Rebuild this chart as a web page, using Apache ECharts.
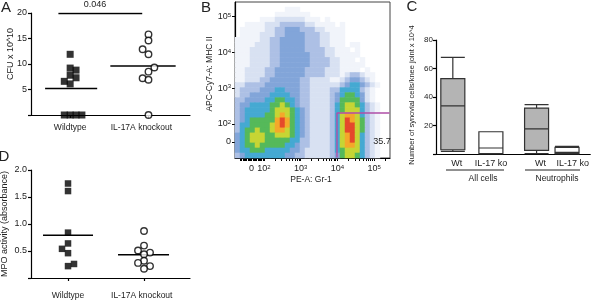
<!DOCTYPE html>
<html>
<head>
<meta charset="utf-8">
<script src="https://cdn.jsdelivr.net/npm/echarts@6/dist/echarts.min.js"></script>
<style>
  html, body { margin: 0; padding: 0; background: #fff; }
  #main { width: 592px; height: 300px; }
</style>
</head>
<body>
<div id="main"></div>
<script>
// ---- A: bacterial load ----
const groupNames = ['Wildtype', 'IL-17A knockout'];
const cfuWildtype = [11.9, 9.2, 8.8, 7.8, 7.3, 6.6, 6.1, 0, 0, 0, 0];
const cfuWildtypeSlot = [0, 0, 1, 0, 1, -1, 0, -1, 0, 1, 2];
const cfuKnockout = [15.8, 14.6, 12.9, 11.9, 9.3, 8.5, 7.2, 6.9, 0];
const cfuKnockoutSlot = [0, 0, -1, 0, 1, 0, -1, 0, 0];
const cfuMeans = [5.2, 9.6];
const cfuPValue = '0.046';
const cfuTicks = [20, 15, 10, 5];

// ---- D: MPO activity ----
const mpoWildtype = [1.75, 1.61, 0.84, 0.64, 0.54, 0.46, 0.26, 0.22];
const mpoWildtypeSlot = [0, 0, 0, 0, -1, 0, 1, 0];
const mpoKnockout = [0.87, 0.60, 0.51, 0.47, 0.44, 0.32, 0.28, 0.22, 0.17];
const mpoKnockoutSlot = [0, 0, -1, 1, 0, 0, -1, 1, 0];
const mpoMeans = [0.79, 0.43];

// ---- C: synovial cells, [min, Q1, median, Q3, max] ----
const boxLabels = ['Wt', 'IL-17 ko', 'Wt', 'IL-17 ko'];
const boxGroups = ['All cells', 'Neutrophils'];
const boxStats = [
  [1.9, 3.0, 33.8, 52.9, 67.8],
  [0, 0.3, 4.2, 15.6, 15.6],
  [0.3, 2.6, 17.7, 32.2, 34.7],
  [0, 0.3, 1.2, 4.7, 5.4]
];

// ---- B: flow plot, density levels (0 empty .. 9 densest), rows top -> bottom ----
const flowDensity = [
  '',
  '0000000000111',
  '000000001111111',
  '0000011122222211101',
  '0011112223333322111101',
  '0111112233444333221111',
  '0111122233444433322111',
  '1111122334444433322111',
  '1111222334444433322111011',
  '1112222334444433332211101',
  '1112222334444443332211111',
  '11122223344444433332211101',
  '11122223344444433332211111',
  '112222334444443333222111101',
  '1122223344444433332221233211',
  '1122233444444332222112344321',
  '22333344444443322222234554321',
  '2333344455444332222335555321',
  '2334444555544332222345665421',
  '3344445566554332222346666421',
  '34455556676543322223567765321',
  '34555556777654322223567775321',
  '34555566787654322223578875321',
  '34566666898654322223579876321',
  '35566667898654322223579976321',
  '35667667887654322223579976321',
  '45677766777654322223578975321',
  '45677766666553322223578975321',
  '45667666665543322223578875321',
  '45566655555443222223567775321',
  '34555555554433222223467765321'
];
const flowExponents = [null, 2, 3, 4, 5];   // 0, 10^2 ... 10^5
const gateX = [9750, 262144];
const gateY = [-200, 202];
const gatePercent = '35.7';

const font = 'Liberation Sans, Arial, sans-serif';
const ink = '#222';
const flowCols = 31;
const flowColors = ['#f1f4fa', '#d8e1f2', '#adc0e5', '#82a5d9', '#45a9d2', '#55b95a', '#c6d534', '#f4a82a', '#e5492b'];

// biexponential display scale (display units = pixels inside the plot)
function flowX(v) { return Math.abs(v) <= 100 ? 16.5 + v * 0.125 : 29 + 36.7 * Math.log10(v / 100); }
function flowY(v) { return Math.abs(v) <= 100 ? 16 + v * 0.18 : 34 + 35.8 * Math.log10(v / 100); }

let flowCells = [];
flowDensity.forEach((row, r) => {
  row.padEnd(flowCols, '0').split('').forEach((ch, c) => {
    if (ch !== '0') flowCells.push([c, r, +ch]);
  });
});

const xMajor = flowExponents.map(e => flowX(e === null ? 0 : Math.pow(10, e)));
const yMajor = flowExponents.map(e => flowY(e === null ? 0 : Math.pow(10, e)));
let xMinor = [];
for (let k = -9; k <= 9; k++) if (k !== 0) xMinor.push(flowX(k * 10));
[100, 1000, 10000].forEach(d => { for (let m = 2; m <= 9; m++) xMinor.push(flowX(d * m)); });
xMinor.push(flowX(200000));

function expLabel(v, majors) {
  const i = majors.findIndex(p => Math.abs(p - v) < 0.01);
  if (i < 0) return '';
  return flowExponents[i] === null ? '0' : '10{s|' + flowExponents[i] + '}';
}

function dotData(values, slots, center, step) {
  return values.map((v, i) => [center + slots[i] * step, v]);
}
function meanLine(xi, yi, from, to, value) {
  return {
    type: 'line', xAxisIndex: xi, yAxisIndex: yi, symbol: 'none', silent: true, z: 3,
    lineStyle: { color: '#000', width: 1.5 },
    data: [[from, value], [to, value]]
  };
}
function text(t, x, y, size, extra) {
  return Object.assign({
    type: 'text', x: x, y: y, z: 100, silent: true,
    style: { text: t, fill: ink, font: size + 'px ' + font, align: 'center', verticalAlign: 'middle' }
  }, extra || {});
}

const axisLineStyle = { show: true, lineStyle: { color: '#000', width: 1.2 } };
const tickStyle = { show: true, length: 3, lineStyle: { color: '#000', width: 1.2 } };
const labelStyle = { color: ink, fontFamily: font, fontSize: 9 };
const supRich = { s: { fontSize: 6, fontFamily: font, color: ink, verticalAlign: 'top' } };

const boxCenters = [1, 2, 3.2, 4.0];
const boxLabelPos = [1.1, 2.0, 3.3, 4.15];

let option = {
  animation: false,
  grid: [
    { left: 31, top: 13, width: 159, height: 102 },
    { left: 235, top: 2, width: 155, height: 156, show: true, borderColor: '#444', borderWidth: 1 },
    { left: 436, top: 40, width: 156, height: 114 },
    { left: 31, top: 170, width: 159, height: 108 }
  ],
  xAxis: [
    { gridIndex: 0, type: 'value', min: 0.5, max: 2.53, splitLine: { show: false },
      axisLine: axisLineStyle,
      axisTick: Object.assign({ customValues: [1, 2] }, tickStyle),
      axisLabel: Object.assign({ customValues: [1, 1.91], margin: 8,
        formatter: v => v < 1.5 ? groupNames[0] : groupNames[1] }, labelStyle, { fontSize: 8.5 }) },
    { gridIndex: 1, type: 'category', show: false, position: 'top',
      data: Array.from({ length: flowCols }, (_, i) => i) },
    { gridIndex: 1, type: 'value', position: 'bottom', min: 0, max: 155, splitLine: { show: false },
      axisLine: { show: true, onZero: false, lineStyle: { color: '#000', width: 1.2 } },
      axisTick: { show: true, length: 3, customValues: xMajor.concat(xMinor), lineStyle: { color: '#000', width: 1 } },
      axisLabel: Object.assign({ customValues: xMajor, margin: 6,
        formatter: v => expLabel(v, xMajor), rich: supRich }, labelStyle) },
    { gridIndex: 2, type: 'value', min: 0.558, max: 4.61, splitLine: { show: false },
      axisLine: axisLineStyle, axisTick: { show: false },
      axisLabel: Object.assign({ customValues: boxLabelPos, margin: 5,
        formatter: v => boxLabels[boxLabelPos.findIndex(p => Math.abs(p - v) < 0.01)] || '' }, labelStyle) },
    { gridIndex: 3, type: 'value', min: 0.513, max: 2.605, splitLine: { show: false },
      axisLine: axisLineStyle,
      axisTick: Object.assign({ customValues: [1, 2] }, tickStyle),
      axisLabel: Object.assign({ customValues: [1, 1.97], margin: 13,
        formatter: v => v < 1.5 ? groupNames[0] : groupNames[1] }, labelStyle, { fontSize: 8.5 }) }
  ],
  yAxis: [
    { gridIndex: 0, type: 'value', min: 0, max: 20, interval: 5, splitLine: { show: false },
      axisLine: axisLineStyle, axisTick: tickStyle,
      axisLabel: Object.assign({ margin: 4, formatter: v => cfuTicks.indexOf(v) >= 0 ? String(v) : '' }, labelStyle) },
    { gridIndex: 1, type: 'category', show: false, inverse: true, position: 'right',
      data: flowDensity.map((_, i) => i) },
    { gridIndex: 1, type: 'value', position: 'left', min: 0, max: 156, splitLine: { show: false },
      axisLine: { show: true, onZero: false, lineStyle: { color: '#000', width: 1.2 } },
      axisTick: { show: true, length: 3, customValues: yMajor, lineStyle: { color: '#000', width: 1 } },
      axisLabel: Object.assign({ customValues: yMajor, margin: 4,
        formatter: v => expLabel(v, yMajor), rich: supRich }, labelStyle) },
    { gridIndex: 2, type: 'value', min: 0, max: 80, interval: 20, splitLine: { show: false },
      axisLine: axisLineStyle, axisTick: tickStyle,
      axisLabel: Object.assign({ margin: 3, formatter: v => v === 0 ? '' : String(v) }, labelStyle, { fontSize: 8 }) },
    { gridIndex: 3, type: 'value', min: 0, max: 2, interval: 0.5, splitLine: { show: false },
      axisLine: axisLineStyle, axisTick: tickStyle,
      axisLabel: Object.assign({ margin: 4, formatter: v => v === 0 ? '' : v.toFixed(1) }, labelStyle) }
  ],
  visualMap: {
    type: 'piecewise', show: false, seriesIndex: 0, dimension: 2,
    pieces: flowColors.map((c, i) => ({ value: i + 1, color: c }))
  },
  series: [
    { type: 'heatmap', xAxisIndex: 1, yAxisIndex: 1, data: flowCells, silent: true, z: 1,
      itemStyle: { borderWidth: 0 } },
    { type: 'line', xAxisIndex: 2, yAxisIndex: 2, symbol: 'none', silent: true, z: 10, clip: false,
      lineStyle: { color: '#b04fa8', width: 1.4 },
      data: [[flowX(gateX[0]), 0.5], [flowX(gateX[0]), flowY(gateY[1])], [154.5, flowY(gateY[1])]] },
    // A
    { type: 'scatter', xAxisIndex: 0, yAxisIndex: 0, symbol: 'rect', symbolSize: 7, z: 4,
      itemStyle: { color: '#000' }, data: dotData(cfuWildtype, cfuWildtypeSlot, 1, 0.075) },
    { type: 'scatter', xAxisIndex: 0, yAxisIndex: 0, symbol: 'circle', symbolSize: 6.5, z: 4,
      itemStyle: { color: '#fff', borderColor: '#000', borderWidth: 1.4 },
      data: dotData(cfuKnockout, cfuKnockoutSlot, 2, 0.075) },
    meanLine(0, 0, 0.68, 1.345, cfuMeans[0]),
    meanLine(0, 0, 1.513, 2.347, cfuMeans[1]),
    meanLine(0, 0, 0.85, 1.92, 19.9),
    // C
    { type: 'boxplot', xAxisIndex: 3, yAxisIndex: 3, boxWidth: [24, 24], silent: true,
      data: boxStats.map((s, i) => ({
        value: [boxCenters[i]].concat(s),
        itemStyle: { color: i % 2 === 0 ? '#b4b4b4' : '#fff', borderColor: '#333', borderWidth: 1.2 }
      })) },
    // D
    { type: 'scatter', xAxisIndex: 4, yAxisIndex: 4, symbol: 'rect', symbolSize: 6.5, z: 4,
      itemStyle: { color: '#000' }, data: dotData(mpoWildtype, mpoWildtypeSlot, 1, 0.079) },
    { type: 'scatter', xAxisIndex: 4, yAxisIndex: 4, symbol: 'circle', symbolSize: 6.5, z: 4,
      itemStyle: { color: '#fff', borderColor: '#000', borderWidth: 1.4 },
      data: dotData(mpoKnockout, mpoKnockoutSlot, 2, 0.079) },
    meanLine(4, 4, 0.671, 1.329, mpoMeans[0]),
    meanLine(4, 4, 1.658, 2.329, mpoMeans[1])
  ],
  graphic: [
    text('A', 6, 8, 15),
    text('B', 206, 8, 15),
    text('C', 412, 7, 15),
    text('D', 4, 157, 15),
    text(cfuPValue, 95, 5, 9),
    text('CFU x 10^10', 11, 54, 9, { rotation: Math.PI / 2 }),
    text('APC-Cy7-A: MHC II', 210, 74, 8.5, { rotation: Math.PI / 2 }),
    text('PE-A: Gr-1', 311, 180, 8.5),
    text(gatePercent, 382, 142, 9),
    text('Number of synovial cells/knee joint x 10^4', 412, 95, 7.5, { rotation: Math.PI / 2 }),
    text('MPO activity (absorbance)', 5, 224, 9, { rotation: Math.PI / 2 }),
    { type: 'line', silent: true, shape: { x1: 446, y1: 170, x2: 504, y2: 170 }, style: { stroke: '#222', lineWidth: 1 } },
    { type: 'line', silent: true, shape: { x1: 525, y1: 170, x2: 580, y2: 170 }, style: { stroke: '#222', lineWidth: 1 } },
    text(boxGroups[0], 483, 179, 8.5),
    text(boxGroups[1], 557, 179, 8.5)
  ]
};

let chart = echarts.init(document.getElementById('main'));
chart.setOption(option);
</script>
</body>
</html>
